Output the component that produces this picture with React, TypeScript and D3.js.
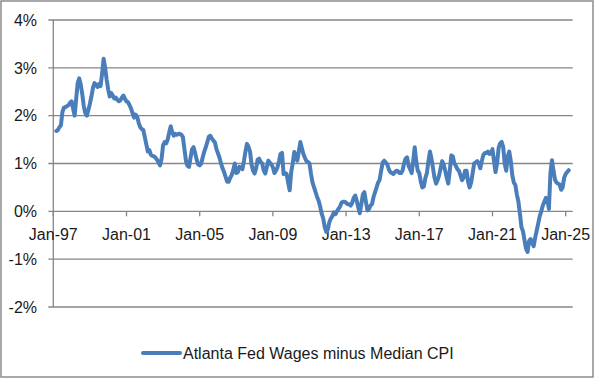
import React from "react";
import * as d3 from "d3";

// Monthly values (%), Atlanta Fed wage growth minus median CPI, starting Mar-1997
const startYear = 1997;
const startMonth = 2; // March (0-based)
const spread: number[] = [
  // 1997 (Mar-Dec)
  1.68, 1.70, 1.76, 1.80, 2.08, 2.17, 2.18, 2.20, 2.22, 2.27,
  // 1998
  2.30, 2.15, 2.00, 2.35, 2.68, 2.78, 2.65, 2.45, 2.20, 2.05, 2.00, 2.12,
  // 1999
  2.25, 2.40, 2.58, 2.68, 2.65, 2.60, 2.66, 2.62, 2.88, 3.19, 3.00, 2.75,
  // 2000
  2.55, 2.40, 2.47, 2.42, 2.36, 2.38, 2.33, 2.30, 2.32, 2.38, 2.42, 2.35,
  // 2001
  2.30, 2.28, 2.22, 2.15, 2.05, 1.96, 2.02, 1.98, 1.85, 1.76, 1.72, 1.70,
  // 2002
  1.55, 1.40, 1.25, 1.28, 1.18, 1.16, 1.15, 1.12, 1.08, 1.02, 0.96, 1.10,
  // 2003
  1.38, 1.45, 1.42, 1.50, 1.65, 1.78, 1.65, 1.58, 1.62, 1.60, 1.62, 1.62,
  // 2004
  1.60, 1.55, 1.30, 1.05, 0.95, 0.93, 1.12, 1.30, 1.34, 1.22, 1.08, 0.98,
  // 2005
  0.96, 1.00, 1.13, 1.25, 1.34, 1.45, 1.56, 1.58, 1.52, 1.48, 1.44, 1.30,
  // 2006
  1.21, 1.12, 1.00, 0.90, 0.82, 0.72, 0.62, 0.62, 0.70, 0.76, 0.86, 1.00,
  // 2007
  0.80, 0.82, 0.93, 0.92, 0.88, 1.05, 1.25, 1.41, 1.35, 1.25, 0.98, 0.85,
  // 2008
  0.79, 0.90, 1.08, 1.10, 1.03, 1.00, 0.85, 0.79, 0.92, 1.06, 1.02, 0.98,
  // 2009
  0.92, 0.80, 0.85, 0.92, 1.05, 1.20, 1.22, 0.78, 0.80, 0.78, 0.60, 0.44,
  // 2010
  0.82, 1.00, 1.24, 1.18, 1.06, 1.25, 1.45, 1.32, 1.20, 1.12, 1.05, 1.03,
  // 2011
  1.00, 0.78, 0.60, 0.50, 0.40, 0.30, 0.22, 0.10, -0.05, -0.15, -0.33, -0.43,
  // 2012
  -0.38, -0.23, -0.15, -0.10, -0.02, -0.06, 0.00, 0.05, 0.10, 0.18, 0.20, 0.20,
  // 2013
  0.18, 0.15, 0.15, 0.12, 0.18, 0.28, 0.33, 0.22, 0.08, -0.04, 0.15, 0.35,
  // 2014
  0.40, 0.20, 0.02, 0.05, 0.12, 0.15, 0.30, 0.40, 0.50, 0.60, 0.66, 0.85,
  // 2015
  1.02, 1.06, 1.02, 0.98, 0.88, 0.82, 0.80, 0.78, 0.82, 0.85, 0.84, 0.80,
  // 2016
  0.80, 0.85, 1.00, 1.10, 1.13, 0.95, 0.88, 0.80, 1.05, 1.34, 1.05, 0.85,
  // 2017
  0.80, 0.62, 0.50, 0.52, 0.70, 0.80, 1.05, 1.25, 1.10, 0.90, 0.70, 0.58,
  // 2018
  0.65, 0.75, 0.90, 1.05, 0.98, 0.85, 0.70, 0.58, 0.85, 1.17, 1.15, 1.00,
  // 2019
  0.95, 0.88, 0.85, 0.75, 0.65, 0.70, 0.85, 0.85, 0.62, 0.50, 0.60, 0.80,
  // 2020
  1.00, 1.02, 1.05, 1.00, 0.90, 1.05, 1.18, 1.22, 1.22, 1.25, 1.20, 1.22,
  // 2021
  1.30, 1.05, 0.82, 1.00, 1.32, 1.42, 1.45, 1.35, 1.00, 0.85, 1.15, 1.25,
  // 2022
  1.05, 0.75, 0.60, 0.55, 0.35, 0.20, -0.05, -0.33, -0.42, -0.60, -0.78, -0.85,
  // 2023
  -0.62, -0.58, -0.65, -0.73, -0.55, -0.40, -0.25, -0.10, 0.00, 0.12, 0.20, 0.28,
  // 2024
  0.25, 0.05, 0.80, 1.07, 0.85, 0.66, 0.60, 0.58, 0.56, 0.45, 0.50, 0.70,
  // 2025
  0.78, 0.82, 0.86,
];

const xTickYears = [1997, 2001, 2005, 2009, 2013, 2017, 2021, 2025];
const yTicks = [-2, -1, 0, 1, 2, 3, 4];
const seriesName = "Atlanta Fed Wages minus Median CPI";

const W = 595;
const H = 379;
const plotLeft = 53.3;
const plotRight = 572.7;
const plotTop = 20;
const plotBottom = 307;
const FONT = "'Liberation Sans', Arial, sans-serif";
const LINE = "#4A7EBB";
const GRID = "#868686";

export default function App() {
  // month index since Jan-1997
  const x = d3.scaleLinear().domain([0, 340.6]).range([plotLeft, plotRight]);
  const y = d3.scaleLinear().domain([-2, 4]).range([plotBottom, plotTop]);

  const pts = spread.map((v, i) => ({ m: startMonth + i, v }));
  const line = d3
    .line<{ m: number; v: number }>()
    .x((d) => x(d.m))
    .y((d) => y(d.v));

  const xTicks = xTickYears.map((yr) => ({
    m: (yr - startYear) * 12,
    label: "Jan-" + String(yr).slice(2),
  }));

  const legendY = 353;

  return (
    <svg
      width={W}
      height={H}
      style={{ position: "absolute", left: 0, top: 0, background: "#fff" }}
      fontFamily={FONT}
    >
      <rect x={1} y={1} width={W - 3} height={H - 3} fill="#fff" stroke="#8c8c8c" strokeWidth={1.5} />
      {yTicks.map((t) => (
        <g key={t}>
          <line x1={plotLeft - 5} x2={plotRight} y1={y(t)} y2={y(t)} stroke={GRID} strokeWidth={1.3} />
          <text x={37} y={y(t)} dy="0.36em" textAnchor="end" fontSize={16} fill="#1a1a1a">
            {t + "%"}
          </text>
        </g>
      ))}
      <line x1={plotLeft} x2={plotLeft} y1={plotTop} y2={plotBottom} stroke={GRID} strokeWidth={1.3} />
      {xTicks.map((t) => (
        <g key={t.label}>
          <line x1={x(t.m)} x2={x(t.m)} y1={y(0)} y2={y(0) + 5} stroke={GRID} strokeWidth={1.3} />
          <text x={x(t.m)} y={240} textAnchor="middle" fontSize={16} fill="#1a1a1a">
            {t.label}
          </text>
        </g>
      ))}
      <path d={line(pts) || ""} fill="none" stroke={LINE} strokeWidth={4} strokeLinejoin="round" strokeLinecap="round" />
      <line x1={143} x2={180} y1={legendY} y2={legendY} stroke={LINE} strokeWidth={4} strokeLinecap="round" />
      <text x={183} y={legendY} dy="0.36em" fontSize={16} fill="#1a1a1a">
        {seriesName}
      </text>
    </svg>
  );
}
